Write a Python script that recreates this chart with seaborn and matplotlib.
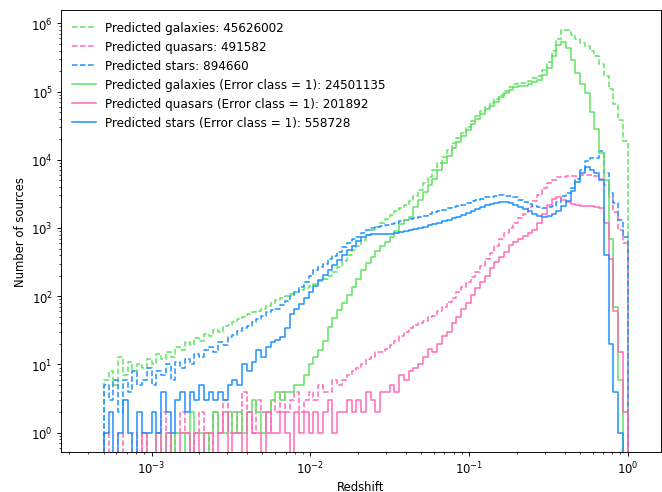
import numpy as np
import matplotlib
matplotlib.use("Agg")
import matplotlib.pyplot as plt
from matplotlib.ticker import NullFormatter
import seaborn as sns

# Histogram bins in log10(redshift)
log_bin_edges = np.linspace(-3.3, 0.0, 111)

# Counts per bin
gal_all = [6, 8, 5, 13, 7, 11, 8, 10, 9, 12,
           10, 14, 12, 15, 13, 18, 16, 21, 19, 24,
           22, 28, 26, 32, 30, 36, 38, 42, 47, 50,
           54, 58, 60, 66, 72, 80, 88, 95, 100, 108,
           115, 125, 132, 140, 152, 165, 180, 200, 230, 270,
           330, 400, 470, 550, 660, 800, 920, 1050, 1180, 1350,
           1550, 1750, 1950, 2150, 2450, 2900, 3600, 4500, 5500, 7000,
           9000, 11000, 14000, 17500, 21000, 25000, 30000, 37000, 44000, 52000,
           60000, 68000, 78000, 90000, 103000, 116000, 127000, 132000, 135000, 145000,
           158000, 172000, 205000, 270000, 390000, 590000, 790000, 790000, 680000, 580000,
           520000, 460000, 400000, 330000, 250000, 170000, 110000, 65000, 38000, 19000]

qso_all = [1, 0, 0, 1, 0, 0, 1, 0, 1, 0,
           0, 1, 2, 1, 0, 1, 2, 1, 0, 1,
           2, 1, 0, 2, 1, 3, 1, 2, 1, 4,
           2, 1, 3, 2, 1, 3, 2, 4, 2, 3,
           4, 2, 3, 4, 3, 5, 4, 4, 6, 5,
           6, 7, 8, 9, 10, 12, 13, 15, 15, 17,
           19, 22, 26, 30, 34, 38, 40, 44, 50, 52,
           60, 70, 82, 95, 115, 135, 160, 190, 230, 280,
           350, 430, 550, 700, 850, 1000, 1200, 1400, 1600, 2000,
           2500, 3000, 3800, 4500, 5000, 5500, 5600, 5700, 5800, 5800,
           5900, 5900, 5900, 5700, 5200, 4200, 2800, 1700, 950, 600]

star_all = [5, 3, 6, 2, 6, 4, 8, 5, 6, 9,
            5, 8, 7, 10, 6, 11, 9, 12, 10, 14,
            13, 16, 18, 15, 21, 19, 25, 27, 31, 34,
            37, 42, 46, 52, 58, 62, 66, 75, 85, 100,
            115, 135, 160, 200, 240, 270, 300, 350, 390, 440,
            520, 600, 680, 750, 850, 940, 1000, 1050, 1080, 1100,
            1150, 1200, 1250, 1300, 1350, 1400, 1450, 1500, 1600, 1700,
            1800, 1850, 1950, 2000, 2100, 2200, 2300, 2450, 2550, 2700,
            2800, 2850, 2900, 3000, 2950, 2950, 2800, 2600, 2400, 2250,
            2100, 2000, 1950, 2000, 2100, 2400, 2900, 3300, 3800, 5200,
            7000, 9500, 10500, 10700, 13500, 6300, 3300, 2300, 1300, 750]

gal_err1 = [0, 0, 0, 0, 0, 0, 0, 0, 0, 0,
            0, 1, 0, 1, 0, 1, 1, 0, 2, 1,
            1, 0, 1, 2, 1, 1, 2, 1, 2, 1,
            2, 3, 2, 1, 2, 3, 4, 3, 4, 4,
            5, 5, 7, 10, 13, 16, 22, 35, 48, 62,
            80, 105, 135, 180, 240, 310, 380, 460, 540, 630,
            750, 900, 1150, 1300, 1450, 2000, 2600, 3400, 4200, 5300,
            7200, 9000, 11500, 15000, 18500, 22000, 27000, 33000, 40000, 47000,
            55000, 62000, 71000, 82000, 95000, 107000, 118000, 120000, 121000, 128000,
            138000, 148000, 175000, 225000, 330000, 480000, 540000, 430000, 290000, 190000,
            130000, 95000, 50000, 28000, 12500, 5000, 700, 70, 6, 0]

qso_err1 = [0, 0, 0, 0, 0, 0, 0, 0, 1, 0,
            0, 1, 0, 1, 0, 0, 1, 1, 0, 1,
            0, 1, 1, 0, 1, 2, 0, 1, 1, 0,
            2, 1, 1, 0, 2, 1, 1, 2, 1, 0,
            2, 1, 2, 1, 2, 1, 2, 3, 1, 2,
            2, 3, 2, 3, 2, 4, 3, 2, 4, 4,
            5, 4, 7, 6, 8, 9, 10, 13, 17, 15,
            20, 26, 30, 40, 50, 65, 80, 105, 130, 160,
            200, 260, 320, 380, 450, 560, 620, 680, 760, 850,
            950, 1200, 1600, 2200, 2700, 2800, 2600, 2400, 2250, 2150,
            2100, 2100, 2100, 2050, 1950, 1200, 350, 60, 15, 2]

star_err1 = [1, 2, 0, 1, 3, 1, 0, 2, 1, 1,
             2, 1, 4, 2, 1, 3, 4, 2, 4, 3,
             5, 3, 4, 3, 4, 3, 5, 6, 5, 10,
             8, 11, 16, 13, 18, 21, 23, 25, 34, 55,
             65, 78, 95, 115, 140, 175, 205, 240, 290, 340,
             400, 480, 550, 640, 730, 800, 820, 820, 820, 820,
             830, 850, 870, 900, 930, 960, 1000, 1050, 1100, 1150,
             1200, 1250, 1300, 1380, 1450, 1550, 1650, 1800, 1900, 2000,
             2150, 2250, 2350, 2400, 2400, 2300, 2150, 2000, 1900, 1750,
             1600, 1500, 1450, 1480, 1600, 1800, 2100, 2500, 3500, 4800,
             6500, 7800, 7000, 6500, 5000, 400, 20, 4, 1, 0]

labels = ["Predicted galaxies: 45626002",
          "Predicted quasars: 491582",
          "Predicted stars: 894660",
          "Predicted galaxies (Error class = 1): 24501135",
          "Predicted quasars (Error class = 1): 201892",
          "Predicted stars (Error class = 1): 558728"]

x_major_ticks = [1e-3, 1e-2, 1e-1, 1e0]
y_major_ticks = [1e0, 1e1, 1e2, 1e3, 1e4, 1e5, 1e6]

GREEN = "#5fe35f"
PINK = "#ff69b4"
BLUE = "#1e90ff"

series = [
    (gal_all, GREEN, "--"),
    (qso_all, PINK, "--"),
    (star_all, BLUE, "--"),
    (gal_err1, GREEN, "-"),
    (qso_err1, PINK, "-"),
    (star_err1, BLUE, "-"),
]

DPI = 84
fig = plt.figure(figsize=(662 / DPI, 493 / DPI), dpi=DPI)
ax = fig.add_axes([61 / 662, 40 / 493, 600 / 662, 442 / 493])

edges = 10 ** log_bin_edges
xs = np.concatenate([[edges[0]], edges])
for (counts, color, ls), lab in zip(series, labels):
    ys = np.concatenate([[0.0], np.asarray(counts, dtype=float), [0.0]])
    sns.lineplot(x=xs, y=ys, ax=ax, color=color, linestyle=ls, linewidth=1.3,
                 drawstyle="steps-post", estimator=None, sort=False, label=lab)

ax.set_xscale("log")
ax.set_yscale("log")
ax.set_xticks(x_major_ticks)
ax.set_yticks(y_major_ticks)
ax.set_xlim(2.69e-4, 1.62)
ax.set_ylim(0.52, 1.57e6)
ax.xaxis.set_minor_formatter(NullFormatter())
ax.yaxis.set_minor_formatter(NullFormatter())
ax.set_xlabel("Redshift", fontsize=10, labelpad=2.5)
ax.set_ylabel("Number of sources", fontsize=10)
ax.tick_params(labelsize=10)
ax.legend(loc="upper left", frameon=False, fontsize=10.3)

fig.savefig("out.png", dpi=DPI)
